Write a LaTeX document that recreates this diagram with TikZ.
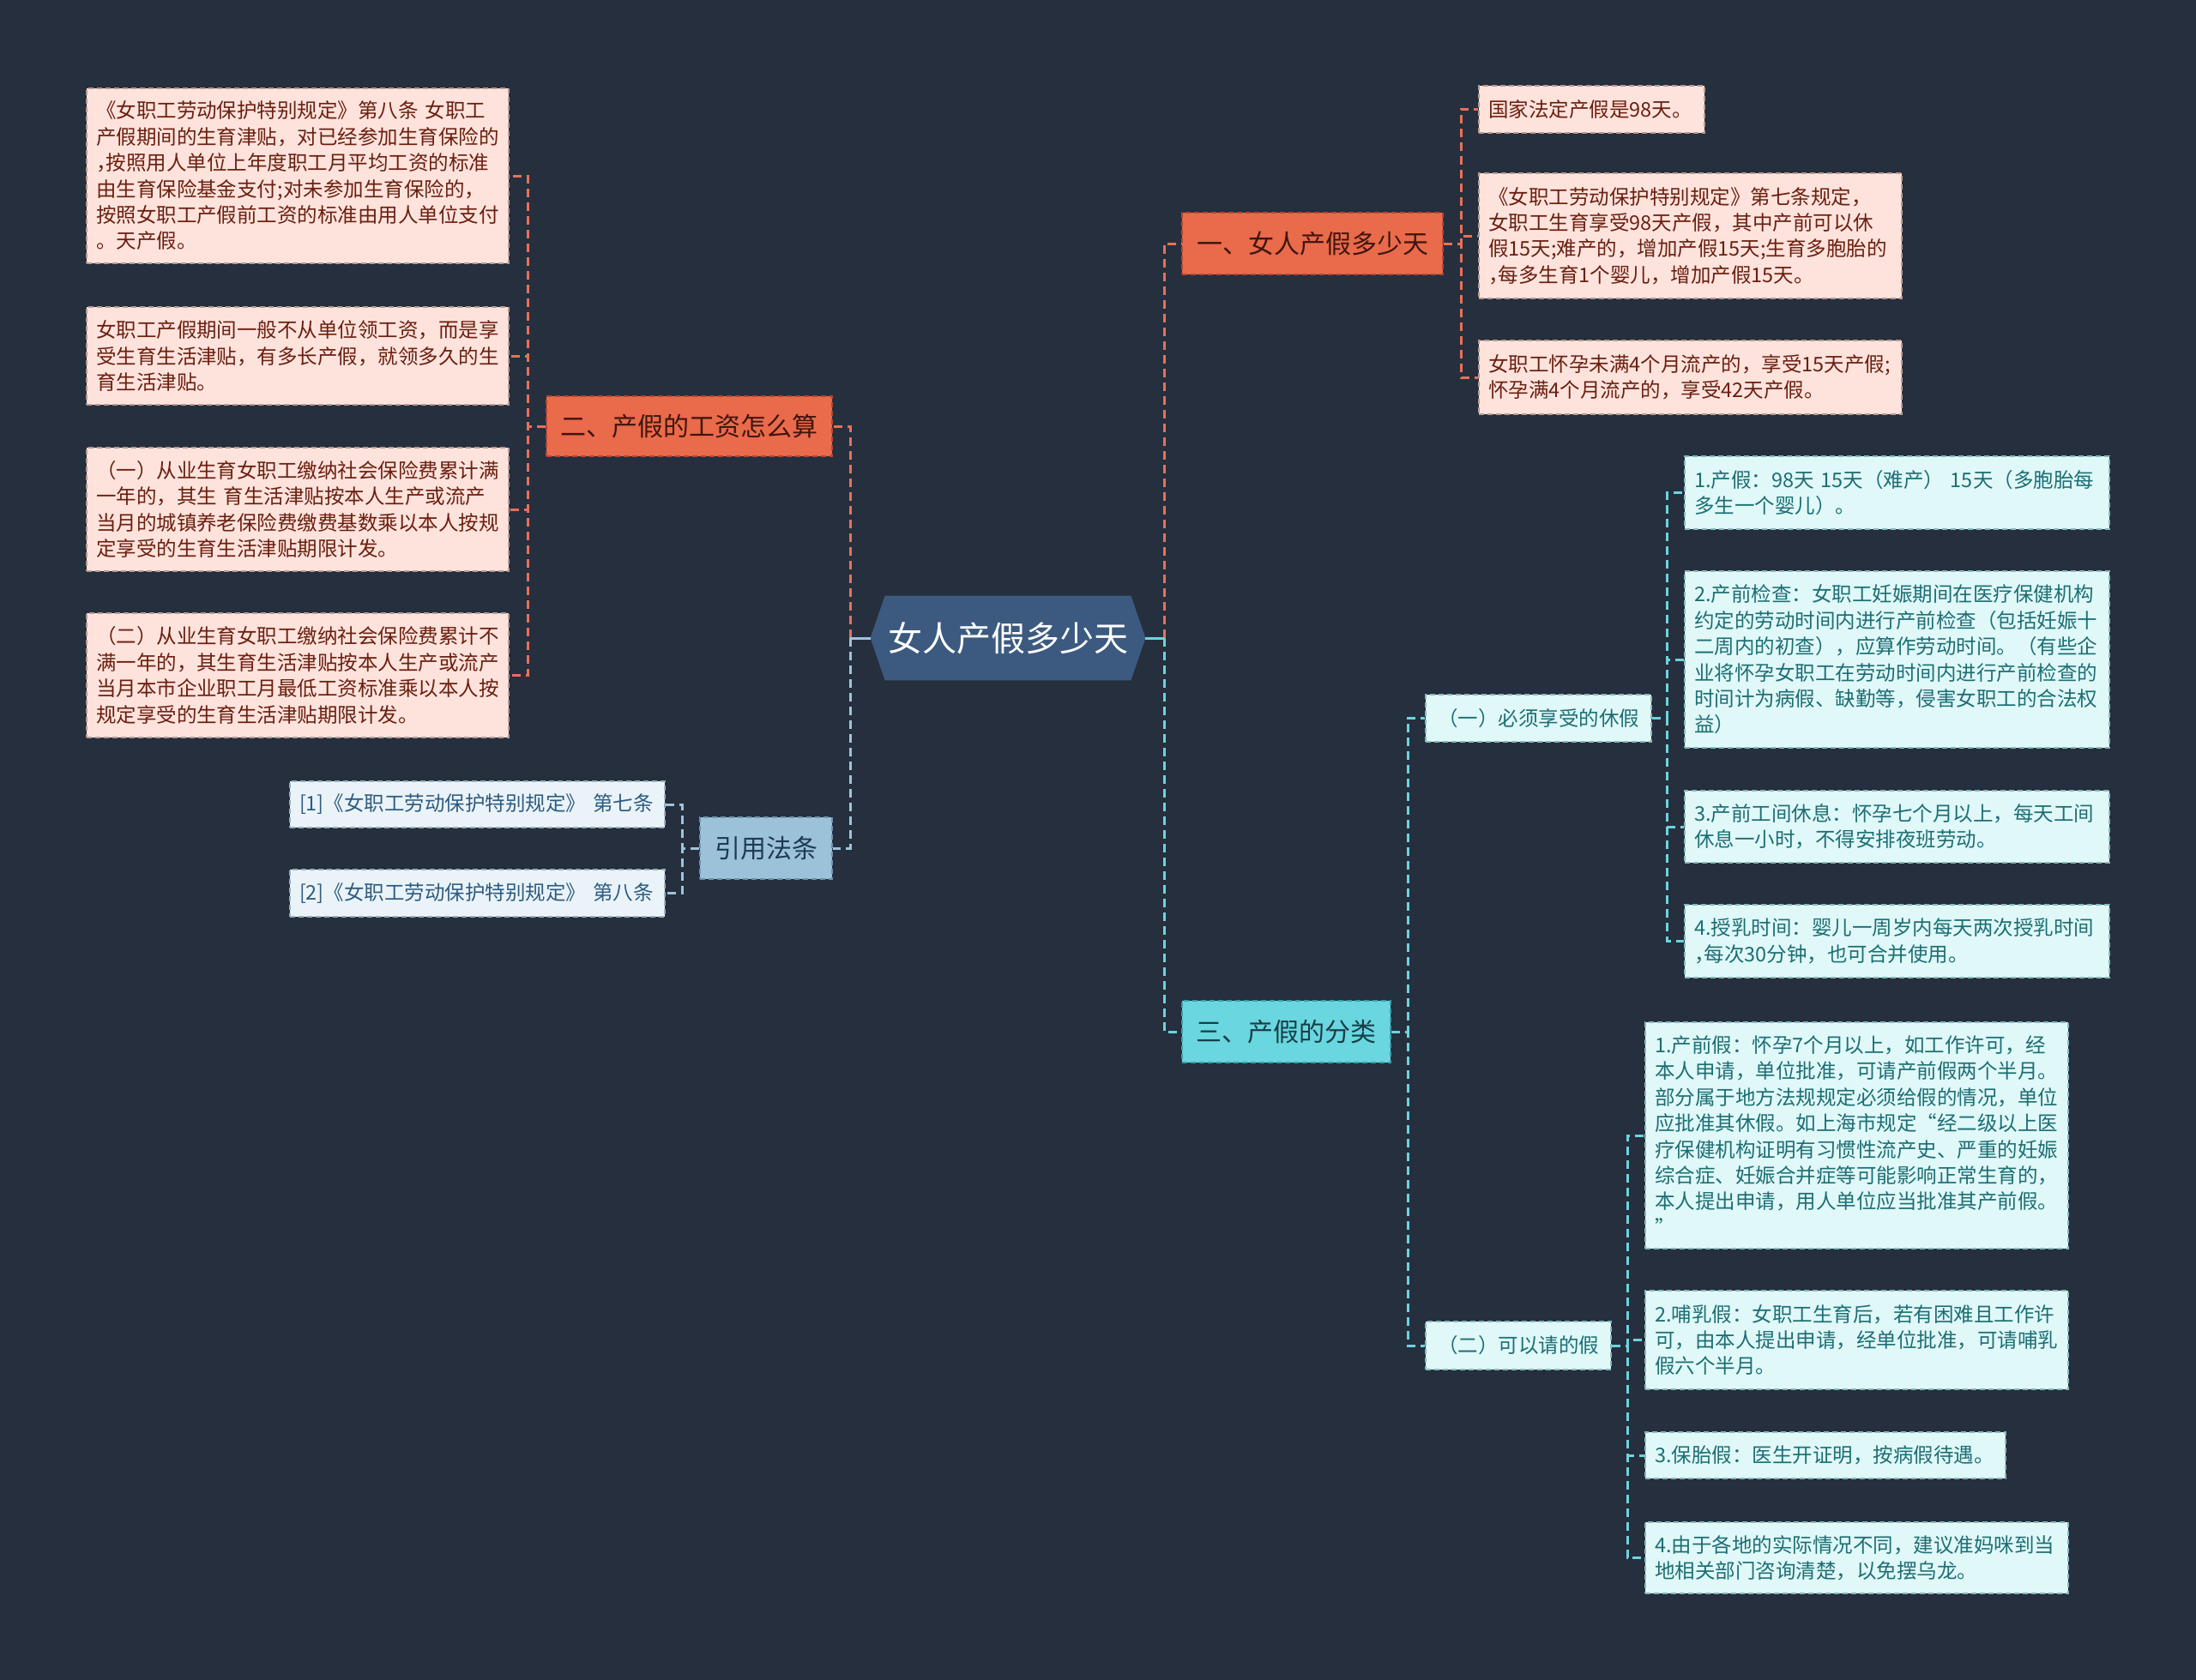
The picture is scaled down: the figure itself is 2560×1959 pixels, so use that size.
\documentclass[tikz,border=0pt]{standalone}
\usepackage{fontspec}
\setmainfont{Noto Sans CJK SC}
\usetikzlibrary{calc,backgrounds}
\newcommand\hcomma{{\addfontfeatures{RawFeature=+halt}，}}
\definecolor{bg}{HTML}{262F3D}
\definecolor{cfill}{HTML}{3C5A80}
\definecolor{orfill}{HTML}{EA6A4C}
\definecolor{orborder}{HTML}{B8452F}
\definecolor{ortext}{HTML}{3F160C}
\definecolor{pkfill}{HTML}{FDE3DC}
\definecolor{pkborder}{HTML}{B89A92}
\definecolor{pktext}{HTML}{6B1F10}
\definecolor{cyfill}{HTML}{69D6E0}
\definecolor{cyborder}{HTML}{3A9FAA}
\definecolor{cytitle}{HTML}{173F47}
\definecolor{lcfill}{HTML}{E0F8F8}
\definecolor{lcborder}{HTML}{86B9BC}
\definecolor{lctext}{HTML}{1C6E74}
\definecolor{blfill}{HTML}{9CC2DA}
\definecolor{blborder}{HTML}{6E93AC}
\definecolor{bltitle}{HTML}{1E3A56}
\definecolor{lbfill}{HTML}{EAF3F8}
\definecolor{lbborder}{HTML}{9AAFBE}
\definecolor{lbtext}{HTML}{2E5C80}
\definecolor{orline}{HTML}{E8705A}
\definecolor{cyline}{HTML}{6CD4DF}
\definecolor{blline}{HTML}{9EC4DD}
\tikzset{
  body/.style={font=\fontsize{11.75}{15.2}\selectfont},
  boxbase/.style={body, align=left, inner xsep=5.5pt, inner ysep=0pt,
    line width=0.8pt, dash pattern=on 3pt off 2pt},
  pinkbox/.style={boxbase, draw=pkborder, fill=pkfill, text=pktext},
  lcbox/.style={boxbase, draw=lcborder, fill=lcfill, text=lctext},
  lbbox/.style={boxbase, draw=lbborder, fill=lbfill, text=lbtext},
  titlebase/.style={font=\fontsize{15}{18}\selectfont, inner sep=0pt,
    line width=0.8pt, dash pattern=on 3pt off 2pt},
  ortitle/.style={titlebase, draw=orborder, fill=orfill, text=ortext},
  cytitlebox/.style={titlebase, draw=cyborder, fill=cyfill, text=cytitle},
  bltitlebox/.style={titlebase, draw=blborder, fill=blfill, text=bltitle},
  subbox/.style={body, inner sep=0pt, line width=0.8pt, dash pattern=on 3pt off 2pt,
    draw=lcborder, fill=lcfill, text=lctext},
  orconn/.style={draw=orline, line width=1.5pt, dash pattern=on 5pt off 3pt},
  cyconn/.style={draw=cyline, line width=1.5pt, dash pattern=on 5pt off 3pt},
  blconn/.style={draw=blline, line width=1.5pt, dash pattern=on 5pt off 3pt},
}
\begin{document}
\begin{tikzpicture}[x=0.5pt,y=-0.5pt]
\begin{scope}[on background layer]
\fill[bg] (0,0) rectangle (2560,1959);
\end{scope}

% center
\node[font=\fontsize{20}{24}\selectfont, text=white, minimum width=160pt, minimum height=49pt, inner sep=0pt] (c) at (1175,744) {女人产假多少天};
\begin{scope}[on background layer]
\fill[cfill] (c.west) -- ($(c.north west)+(17,0)$) -- ($(c.north east)+(-17,0)$) -- (c.east) -- ($(c.south east)+(-17,0)$) -- ($(c.south west)+(17,0)$) -- cycle;
\end{scope}

% right branch 1
\node[ortitle, minimum width=152pt, minimum height=36pt] (n1) at (1530,284) {一、女人产假多少天};
\node[pinkbox, text width=120.5pt, minimum height=27.5pt] (n1a) at (1855.5,127.5) {国家法定产假是98天。};
\node[pinkbox, text width=235.5pt, minimum height=73pt] (n1b) at (1970.5,275) {《女职工劳动保护特别规定》第七条规定，\\女职工生育享受98天产假，其中产前可以休\\假15天;难产的，增加产假15天;生育多胞胎的\\\hcomma 每多生育1个婴儿，增加产假15天。};
\node[pinkbox, text width=235.5pt, minimum height=43pt] (n1c) at (1970.5,440) {女职工怀孕未满4个月流产的，享受15天产假;\\怀孕满4个月流产的，享受42天产假。};

% right branch 3
\node[cytitlebox, minimum width=121.5pt, minimum height=36pt] (n3) at (1499.5,1203) {三、产假的分类};
\node[subbox, minimum width=131.5pt, minimum height=27.5pt] (n31) at (1793.5,837.5) {（一）必须享受的休假};
\node[lcbox, text width=236.5pt, minimum height=42.5pt] (n311) at (2211.5,574.5) {1.产假：98天 15天（难产） 15天（多胞胎每\\多生一个婴儿）。};
\node[lcbox, text width=236.5pt, minimum height=103pt] (n312) at (2211.5,769) {2.产前检查：女职工妊娠期间在医疗保健机构\\约定的劳动时间内进行产前检查（包括妊娠十\\二周内的初查），应算作劳动时间。（有些企\\业将怀孕女职工在劳动时间内进行产前检查的\\时间计为病假、缺勤等，侵害女职工的合法权\\益）};
\node[lcbox, text width=236.5pt, minimum height=42pt] (n313) at (2211.5,964) {3.产前工间休息：怀孕七个月以上，每天工间\\休息一小时，不得安排夜班劳动。};
\node[lcbox, text width=236.5pt, minimum height=42.5pt] (n314) at (2211.5,1097.5) {4.授乳时间：婴儿一周岁内每天两次授乳时间\\\hcomma 每次30分钟，也可合并使用。};
\node[subbox, minimum width=108pt, minimum height=28pt] (n32) at (1770,1569) {（二）可以请的假};
\node[lcbox, text width=235.5pt, minimum height=132pt] (n321) at (2164.5,1324) {1.产前假：怀孕7个月以上，如工作许可，经\\本人申请，单位批准，可请产前假两个半月。\\部分属于地方法规规定必须给假的情况，单位\\应批准其休假。如上海市规定“经二级以上医\\疗保健机构证明有习惯性流产史、严重的妊娠\\综合症、妊娠合并症等可能影响正常生育的，\\本人提出申请，用人单位应当批准其产前假。\\”};
\node[lcbox, text width=235.5pt, minimum height=57.5pt] (n322) at (2164.5,1562.5) {2.哺乳假：女职工生育后，若有困难且工作许\\可，由本人提出申请，经单位批准，可请哺乳\\假六个半月。};
\node[lcbox, text width=199pt, minimum height=27pt] (n323) at (2128,1697) {3.保胎假：医生开证明，按病假待遇。};
\node[lcbox, text width=235.5pt, minimum height=41.5pt] (n324) at (2164.5,1816.5) {4.由于各地的实际情况不同，建议准妈咪到当\\地相关部门咨询清楚，以免摆乌龙。};

% left branch 2
\node[ortitle, minimum width=166.5pt, minimum height=35pt] (n2) at (803.5,497) {二、产假的工资怎么算};
\node[pinkbox, text width=235pt, minimum height=102pt] (n21) at (347,205) {《女职工劳动保护特别规定》第八条 女职工\\产假期间的生育津贴，对已经参加生育保险的\\\hcomma 按照用人单位上年度职工月平均工资的标准\\由生育保险基金支付;对未参加生育保险的，\\按照女职工产假前工资的标准由用人单位支付\\。天产假。};
\node[pinkbox, text width=235pt, minimum height=57pt] (n22) at (347,415) {女职工产假期间一般不从单位领工资，而是享\\受生育生活津贴，有多长产假，就领多久的生\\育生活津贴。};
\node[pinkbox, text width=235pt, minimum height=72pt] (n23) at (347,594) {（一）从业生育女职工缴纳社会保险费累计满\\一年的，其生 育生活津贴按本人生产或流产\\当月的城镇养老保险费缴费基数乘以本人按规\\定享受的生育生活津贴期限计发。};
\node[pinkbox, text width=235pt, minimum height=72.5pt] (n24) at (347,787.5) {（二）从业生育女职工缴纳社会保险费累计不\\满一年的，其生育生活津贴按本人生产或流产\\当月本市企业职工月最低工资标准乘以本人按\\规定享受的生育生活津贴期限计发。};

% left branch 4
\node[bltitlebox, minimum width=77pt, minimum height=36pt] (n4) at (893,989) {引用法条};
\node[lbbox, text width=207.5pt, minimum height=27pt] (n41) at (556.5,938) {[1]《女职工劳动保护特别规定》 第七条};
\node[lbbox, text width=207.5pt, minimum height=27.5pt] (n42) at (556.5,1041.5) {[2]《女职工劳动保护特别规定》 第八条};

% bracket x positions
\coordinate (bR) at (1357,0);
\coordinate (bL) at (991,0);
\coordinate (b1) at (1703,0);
\coordinate (b3) at (1641,0);
\coordinate (b31) at (1943,0);
\coordinate (b32) at (1897,0);
\coordinate (b2) at (615,0);
\coordinate (b4) at (795,0);

% main connectors
\draw[orconn] (c.east -| bR) |- (n1.west);
\draw[cyconn] (c.east -| bR) |- (n3.west);
\draw[cyconn, solid] (c.east) -- (c.east -| bR);
\draw[orconn] (c.west -| bL) |- (n2.east);
\draw[blconn] (c.west -| bL) |- (n4.east);
\draw[blconn, solid] (c.west) -- (c.west -| bL);

% branch 1
\foreach \k in {n1a,n1b,n1c} \draw[orconn] (n1.east) -- (n1.east -| b1) |- (\k.west);
% branch 3
\foreach \k in {n31,n32} \draw[cyconn] (n3.east) -- (n3.east -| b3) |- (\k.west);
\foreach \k in {n311,n312,n313,n314} \draw[cyconn] (n31.east) -- (n31.east -| b31) |- (\k.west);
\foreach \k in {n321,n322,n323,n324} \draw[cyconn] (n32.east) -- (n32.east -| b32) |- (\k.west);
% branch 2
\foreach \k in {n21,n22,n23,n24} \draw[orconn] (n2.west) -- (n2.west -| b2) |- (\k.east);
% branch 4
\foreach \k in {n41,n42} \draw[blconn] (n4.west) -- (n4.west -| b4) |- (\k.east);
\end{tikzpicture}
\end{document}
